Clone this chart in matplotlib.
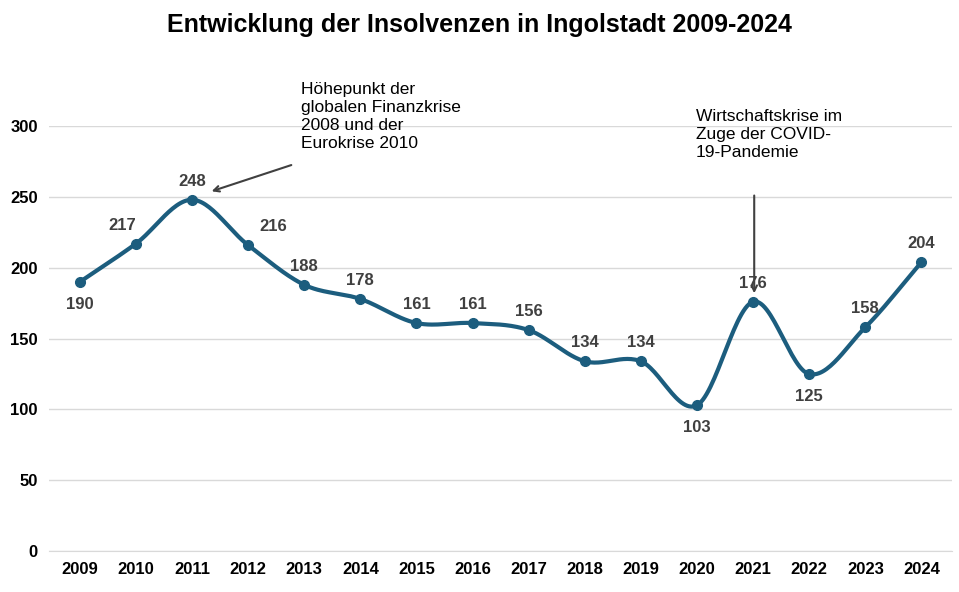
import numpy as np
import matplotlib.pyplot as plt

plt.rcParams['font.family'] = ['Liberation Sans', 'DejaVu Sans']

years = list(range(2009, 2025))
values = [190, 217, 248, 216, 188, 178, 161, 161, 156, 134, 134, 103, 176, 125, 158, 204]
below = {2009, 2020, 2022}
xshift = {2010: -10, 2012: 18}
color = '#1c5d7e'


def catmull(x, y, n=30):
    x = np.asarray(x, float); y = np.asarray(y, float)
    px = np.concatenate([[2*x[0]-x[1]], x, [2*x[-1]-x[-2]]])
    py = np.concatenate([[2*y[0]-y[1]], y, [2*y[-1]-y[-2]]])
    xs, ys = [], []
    t = np.linspace(0, 1, n)
    for i in range(1, len(px)-2):
        for p, out in ((px, xs), (py, ys)):
            p0, p1, p2, p3 = p[i-1], p[i], p[i+1], p[i+2]
            out.extend(0.5*((2*p1) + (-p0+p2)*t + (2*p0-5*p1+4*p2-p3)*t**2 + (-p0+3*p1-3*p2+p3)*t**3))
    return np.array(xs), np.array(ys)


fig = plt.figure(figsize=(9.59, 5.92), dpi=100)
ax = fig.add_axes([0.051, 0.069, 0.942, 0.718])
sx, sy = catmull(years, values)
ax.plot(sx, sy, color=color, lw=3, zorder=3)
ax.plot(years, values, 'o', color=color, ms=7, zorder=4)

for yr, v in zip(years, values):
    dy = -16 if yr in below else 8
    ax.annotate(str(v), (yr, v), xytext=(xshift.get(yr, 0), dy), textcoords='offset points',
                ha='center', va='center' if yr in below else 'bottom',
                fontsize=12, fontweight='bold', color='#404040')

ax.set_xlim(2008.45, 2024.55)
ax.set_ylim(0, 300)
ax.set_xticks(years)
ax.set_yticks(range(0, 301, 50))
ax.tick_params(length=0, labelsize=12, pad=8)
for lab in ax.get_xticklabels() + ax.get_yticklabels():
    lab.set_fontweight('bold')
ax.grid(axis='y', color='#d9d9d9', lw=1)
ax.set_axisbelow(True)
for s in ['top', 'right', 'left']:
    ax.spines[s].set_visible(False)
ax.spines['bottom'].set_color('#d9d9d9')

ax.text(2012.95, 331, 'Höhepunkt der\nglobalen Finanzkrise\n2008 und der\nEurokrise 2010',
        fontsize=12.5, ha='left', va='top', linespacing=1.25)
ax.annotate('', xy=(2011.35, 254), xytext=(2012.77, 272.5),
            arrowprops=dict(arrowstyle='->', color='#404040', lw=1.5, shrinkA=0, shrinkB=0))
ax.text(2019.98, 312, 'Wirtschaftskrise im\nZuge der COVID-\n19-Pandemie', fontsize=12.5,
        ha='left', va='top', linespacing=1.25)
ax.annotate('', xy=(2021.02, 182), xytext=(2021.02, 251),
            arrowprops=dict(arrowstyle='->', color='#404040', lw=1.5, shrinkA=0, shrinkB=0))

fig.text(0.5, 0.958, 'Entwicklung der Insolvenzen in Ingolstadt 2009-2024', ha='center',
         va='center', fontsize=18, fontweight='bold')
fig.savefig('out.png', dpi=100)
